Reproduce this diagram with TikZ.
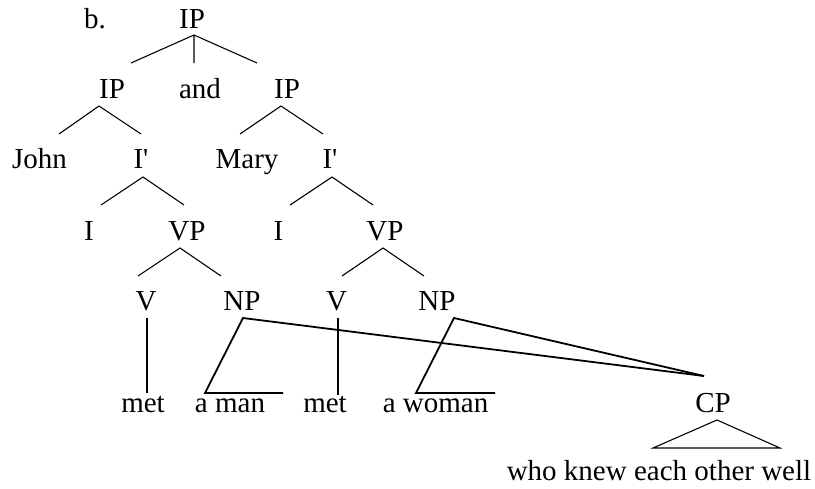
\documentclass[tikz,border=0pt]{standalone}
\usepackage{fontspec}
\setmainfont{Liberation Serif}
\begin{document}
\begin{tikzpicture}[x=1pt,y=-1pt,
  lbl/.style={anchor=base,inner sep=0pt,font=\fontsize{29}{31}\selectfont},
  thin/.style={line width=1.1pt},
  thick/.style={line width=1.8pt,line join=miter}]
\useasboundingbox (0,0) rectangle (815,488);
% labels
\node[lbl] (b) at (95,28) {b.};
\node[lbl] (ip0) at (192,28) {IP};
\node[lbl] (ipL) at (112,98) {IP};
\node[lbl] (and) at (200,98) {and};
\node[lbl] (ipR) at (287,98) {IP};
\node[lbl] (john) at (39.5,168) {John};
\node[lbl] (ibL) at (141,168) {I\textquotesingle};
\node[lbl] (mary) at (247,168) {Mary};
\node[lbl] (ibR) at (330,168) {I\textquotesingle};
\node[lbl] (iL) at (89,240) {I};
\node[lbl] (vpL) at (187,240) {VP};
\node[lbl] (iR) at (278.5,240) {I};
\node[lbl] (vpR) at (385,240) {VP};
\node[lbl] (vL) at (146,310) {V};
\node[lbl] (npL) at (242,310) {NP};
\node[lbl] (vR) at (336.5,310) {V};
\node[lbl] (npR) at (437,310) {NP};
\node[lbl] (metL) at (143,412) {met};
\node[lbl] (aman) at (230,412) {a man};
\node[lbl] (metR) at (325,412) {met};
\node[lbl] (awoman) at (435.5,412) {a woman};
\node[lbl] (cp) at (713,412) {CP};
\node[lbl] (who) at (659,480) {who knew each other well};
% connector points
\coordinate (ip0a) at (194,35);
\coordinate (ipLt) at (131,63);
\coordinate (andt) at (194,63);
\coordinate (ipRt) at (257,63);
\coordinate (ipLa) at (99,106);
\coordinate (johnt) at (59,134);
\coordinate (ibLt) at (141,134);
\coordinate (ipRa) at (281,106);
\coordinate (maryt) at (240,134);
\coordinate (ibRt) at (323,134);
\coordinate (ibLa) at (143,177);
\coordinate (iLt) at (101,205);
\coordinate (vpLt) at (184,205);
\coordinate (ibRa) at (332,177);
\coordinate (iRt) at (290,205);
\coordinate (vpRt) at (373,205);
\coordinate (vpLa) at (180,248);
\coordinate (vLt) at (138,276);
\coordinate (npLt) at (221,276);
\coordinate (vpRa) at (383,248);
\coordinate (vRt) at (342,276);
\coordinate (npRt) at (424,276);
\coordinate (vLa) at (147,318);
\coordinate (metLt) at (147,393);
\coordinate (vRa) at (338,318);
\coordinate (metRt) at (338,395);
\coordinate (npLa) at (243,318);
\coordinate (amanl) at (205,393);
\coordinate (amanr) at (283,393);
\coordinate (npRa) at (454,318);
\coordinate (awomanl) at (416,393);
\coordinate (awomanr) at (495,393);
\coordinate (cpt) at (704,376);
\coordinate (cpa) at (717,420);
\coordinate (whol) at (653,448);
\coordinate (whor) at (780,448);
% branches
\draw[thin] (ipLt) -- (ip0a) -- (ipRt) (ip0a) -- (andt);
\draw[thin] (johnt) -- (ipLa) -- (ibLt);
\draw[thin] (maryt) -- (ipRa) -- (ibRt);
\draw[thin] (iLt) -- (ibLa) -- (vpLt);
\draw[thin] (iRt) -- (ibRa) -- (vpRt);
\draw[thin] (vLt) -- (vpLa) -- (npLt);
\draw[thin] (vRt) -- (vpRa) -- (npRt);
\draw[thick] (vLa) -- (metLt);
\draw[thick] (vRa) -- (metRt);
\draw[thick] (amanr) -- (amanl) -- (npLa) -- (cpt);
\draw[thick] (awomanr) -- (awomanl) -- (npRa) -- (cpt);
\draw[thin] (cpa) -- (whol) -- (whor) -- cycle;
\end{tikzpicture}
\end{document}
